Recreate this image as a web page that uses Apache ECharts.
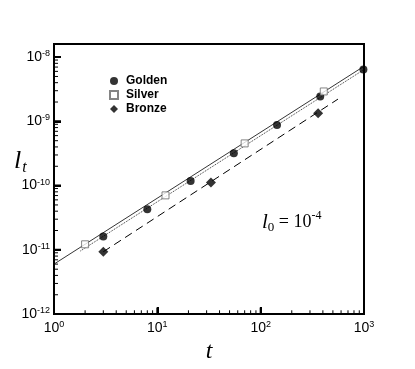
<!DOCTYPE html>
<html><head><meta charset="utf-8">
<script src="https://cdn.jsdelivr.net/npm/echarts@6/dist/echarts.min.js"></script>
<style>html,body{margin:0;padding:0;background:#fff}#c{width:415px;height:369px}</style>
</head><body><div id="c"></div>
<script>
// ---- data (raw values) ----
const goldenT = [3, 8, 21, 55, 144, 377, 987];
const goldenL = [1.62e-11, 4.28e-11, 1.18e-10, 3.18e-10, 8.8e-10, 2.43e-9, 6.41e-9];
const silverT = [2, 12, 70, 408];
const silverL = [1.22e-11, 7.05e-11, 4.54e-10, 2.92e-9];
const bronzeT = [3, 33, 360];
const bronzeL = [9.35e-12, 1.12e-10, 1.34e-9];
const silverFitT = [1, 1000];
const silverFitL = [6.0e-12, 7.2e-9];
const goldenFitT = [1.8, 1000];
const goldenFitL = [9.6e-12, 6.4e-9];
const bronzeFitT = [3, 560];
const bronzeFitL = [9.35e-12, 2.22e-9];
const xMajor = [1, 10, 100, 1000];
const yMajor = [1e-12, 1e-11, 1e-10, 1e-9, 1e-8];
const minorMult = [2, 3, 4, 5, 6, 7, 8, 9];
const seriesNames = ['Golden', 'Silver', 'Bronze'];
const xRange = [1, 1000];
const yRange = [1e-12, 1.6e-8];

// decade (log10) axes: values are passed through log10, the axes do the rest
const lg = Math.log10;
const zipLog = (a, b) => a.map((v, i) => [lg(v), lg(b[i])]);
const minorOf = (major) => {
  const out = [];
  major.slice(0, -1).forEach(m => minorMult.forEach(k => out.push(lg(m * k))));
  return out;
};
const xMinor = minorOf(xMajor);
const yMinor = minorOf(yMajor);
const X0 = lg(xRange[0]), X1 = lg(xRange[1]), Y0 = lg(yRange[0]), Y1 = lg(yRange[1]);

const powFmt = v => Math.abs(v - Math.round(v)) > 1e-6 ? '' : '{b|10}{s|' + Math.round(v) + '}';
const labRich = (fs, ss) => ({
  b: { fontFamily: 'Liberation Sans', fontSize: fs, color: '#000', lineHeight: fs + 2 },
  s: { fontFamily: 'Liberation Sans', fontSize: ss, color: '#000', verticalAlign: 'top', lineHeight: ss }
});

// inward tick marks as broken line series placed by the axes' scales
// (tick length given as a fraction of the opposite axis span)
const tickLines = (name, vals, dir, frac, width) => {
  const data = [];
  vals.forEach(v => {
    if (dir === 'x') {
      const d = (Y1 - Y0) * frac;
      data.push([v, Y0], [v, Y0 + d], ['-', '-']);
    } else {
      const d = (X1 - X0) * frac;
      data.push([X0, v], [X0 + d, v], ['-', '-']);
    }
  });
  return {
    name: name, type: 'line', data: data, showSymbol: false, connectNulls: false, silent: true, z: 6,
    lineStyle: { color: '#000', width: width, type: 'solid' }
  };
};

const chart = echarts.init(document.getElementById('c'));

chart.setOption({
  animation: false,
  grid: { left: 54, right: 51, top: 44, bottom: 42, show: true, borderColor: '#000', borderWidth: 2 },
  legend: {
    orient: 'vertical', left: 104, top: 70, itemWidth: 8, itemHeight: 8, itemGap: 2,
    data: [{ name: 'Golden', icon: 'circle' }, { name: 'Silver', icon: 'rect' }, { name: 'Bronze', icon: 'diamond' }],
    textStyle: { fontFamily: 'Liberation Sans', fontWeight: 'bold', fontSize: 12, color: '#000', lineHeight: 12, padding: [0, 0, 0, 3] }
  },
  xAxis: {
    type: 'value', min: X0, max: X1, interval: 1,
    splitLine: { show: false },
    axisLine: { show: true, onZero: false, lineStyle: { color: '#000', width: 2 } },
    axisTick: { show: true, inside: true, length: 7, lineStyle: { color: '#000', width: 2 } },
    axisLabel: { formatter: powFmt, margin: 6, rich: labRich(14, 9) },
    name: 't', nameLocation: 'middle', nameGap: 22,
    nameTextStyle: { fontFamily: 'Liberation Serif', fontStyle: 'italic', fontSize: 24, color: '#000' }
  },
  yAxis: {
    type: 'value', min: Y0, max: Y1, interval: 1,
    splitLine: { show: false },
    axisLine: { show: true, onZero: false, lineStyle: { color: '#000', width: 2 } },
    axisTick: { show: true, inside: true, length: 7, lineStyle: { color: '#000', width: 2 } },
    axisLabel: { formatter: powFmt, margin: 4, rich: labRich(14, 9), showMaxLabel: false }
  },
  graphic: [
    {
      type: 'text', left: 14, top: 148, z: 100,
      style: {
        text: '{l|l}{t|t}',
        rich: {
          l: { fontFamily: 'Liberation Serif', fontStyle: 'italic', fontSize: 26, fill: '#000', lineHeight: 30 },
          t: { fontFamily: 'Liberation Serif', fontStyle: 'italic', fontSize: 16, fill: '#000', verticalAlign: 'bottom', lineHeight: 16, padding: [0, 0, 0, 1] }
        }
      }
    },
    {
      type: 'text', left: 262, top: 210, z: 100,
      style: {
        text: '{l|l}{z|0}{e| = 10}{s|-4}',
        rich: {
          l: { fontFamily: 'Liberation Serif', fontStyle: 'italic', fontSize: 21, fill: '#000', lineHeight: 24 },
          z: { fontFamily: 'Liberation Serif', fontSize: 13, fill: '#000', verticalAlign: 'bottom', lineHeight: 13 },
          e: { fontFamily: 'Liberation Serif', fontSize: 18, fill: '#000', lineHeight: 24 },
          s: { fontFamily: 'Liberation Serif', fontSize: 12, fill: '#000', verticalAlign: 'top', lineHeight: 12 }
        }
      }
    }
  ],
  series: [
    { name: 'silverFit', type: 'line', data: zipLog(silverFitT, silverFitL), showSymbol: false,
      lineStyle: { color: '#000', width: 0.8, type: 'solid' }, z: 2 },
    { name: 'goldenFit', type: 'line', data: zipLog(goldenFitT, goldenFitL), showSymbol: false,
      lineStyle: { color: '#333', width: 1, type: 'dotted' }, z: 2 },
    { name: 'bronzeFit', type: 'line', data: zipLog(bronzeFitT, bronzeFitL), showSymbol: false,
      lineStyle: { color: '#000', width: 1, type: [8, 5] }, z: 2 },
    { name: seriesNames[0], type: 'scatter', data: zipLog(goldenT, goldenL), symbol: 'circle', symbolSize: 8,
      itemStyle: { color: '#000' }, z: 5 },
    { name: seriesNames[1], type: 'scatter', data: zipLog(silverT, silverL), symbol: 'rect', symbolSize: 7,
      itemStyle: { color: '#fff', borderColor: '#666', borderWidth: 1 }, z: 5 },
    { name: seriesNames[2], type: 'scatter', data: zipLog(bronzeT, bronzeL), symbol: 'diamond', symbolSize: 10,
      itemStyle: { color: '#000' }, z: 5 },
    tickLines('xMinorTicks', xMinor, 'x', 4 / 283, 1),
    tickLines('yMinorTicks', yMinor, 'y', 4 / 310, 1),
    tickLines('xMajorTicks', xMajor.map(lg), 'x', 7 / 283, 2),
    tickLines('yMajorTicks', yMajor.map(lg), 'y', 7 / 310, 2)
  ]
});
</script></body></html>
